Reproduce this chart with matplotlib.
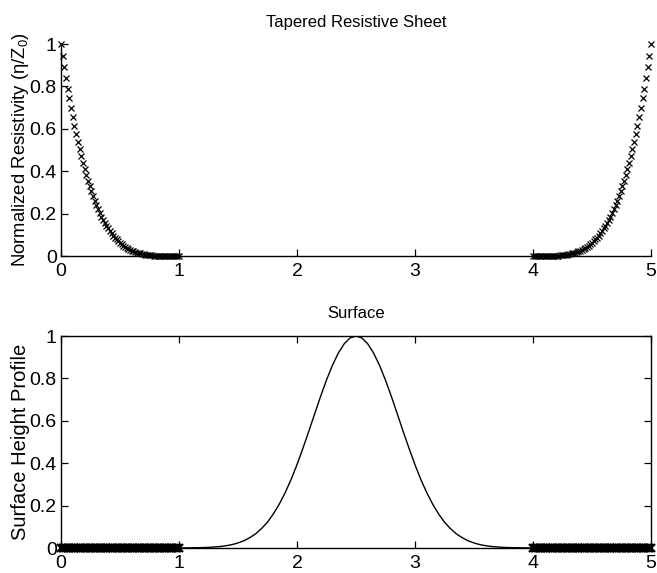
import matplotlib
matplotlib.use("Agg")
from matplotlib import pyplot
import numpy as np

pyplot.rcParams['font.family'] = ['Liberation Sans', 'DejaVu Sans']
pyplot.rcParams['mathtext.fontset'] = 'custom'
pyplot.rcParams['mathtext.rm'] = 'Liberation Sans'
pyplot.rcParams['mathtext.default'] = 'regular'

# sheet sample positions (0..1 and 4..5), 71 samples each
sheet_x_left = np.linspace(0., 1., 71)
sheet_x_right = np.linspace(4., 5., 71)

# normalized resistivity (x = 0 -> 1)
resist_left = [1.000, 0.944, 0.891, 0.839, 0.790, 0.743, 0.699, 0.656, 0.615, 0.577,
               0.540, 0.505, 0.471, 0.440, 0.410, 0.381, 0.354, 0.329, 0.305, 0.282,
               0.260, 0.240, 0.221, 0.203, 0.186, 0.171, 0.156, 0.142, 0.130, 0.118,
               0.107, 0.096, 0.087, 0.078, 0.070, 0.062, 0.056, 0.049, 0.044, 0.038,
               0.034, 0.029, 0.026, 0.022, 0.019, 0.016, 0.014, 0.012, 0.010, 0.008,
               0.007, 0.005, 0.004, 0.003, 0.003, 0.002, 0.002, 0.001, 0.001, 0.001,
               0.000, 0.000, 0.000, 0.000, 0.000, 0.000, 0.000, 0.000, 0.000, 0.000,
               0.000]
# right taper is the mirror image
resist_right = resist_left[::-1]

# surface profile
surf_x = [0.0, 0.5, 1.0, 1.1, 1.2, 1.25, 1.3, 1.35, 1.4, 1.45, 1.5, 1.55, 1.6, 1.65, 1.7,
          1.75, 1.8, 1.85, 1.9, 1.95, 2.0, 2.05, 2.1, 2.15, 2.2, 2.25, 2.3, 2.35, 2.4,
          2.45, 2.5, 2.55, 2.6, 2.65, 2.7, 2.75, 2.8, 2.85, 2.9, 2.95, 3.0, 3.05, 3.1,
          3.15, 3.2, 3.25, 3.3, 3.35, 3.4, 3.45, 3.5, 3.55, 3.6, 3.65, 3.7, 3.75, 3.8,
          3.9, 4.0, 4.5, 5.0]
surf_y = [0.0, 0.0, 0.0, 0.001, 0.002, 0.003, 0.005, 0.007, 0.011, 0.016, 0.024, 0.034,
          0.049, 0.067, 0.092, 0.122, 0.161, 0.207, 0.261, 0.323, 0.393, 0.470, 0.550,
          0.633, 0.715, 0.792, 0.861, 0.919, 0.963, 0.991, 1.000, 0.991, 0.963, 0.919,
          0.861, 0.792, 0.715, 0.633, 0.550, 0.470, 0.393, 0.323, 0.261, 0.207, 0.161,
          0.122, 0.092, 0.067, 0.049, 0.034, 0.024, 0.016, 0.011, 0.007, 0.005, 0.003,
          0.002, 0.001, 0.0, 0.0, 0.0]

x_ticks = [0, 1, 2, 3, 4, 5]
y_ticks = [0, 0.2, 0.4, 0.6, 0.8, 1]
y_tick_labels = ['0', '0.2', '0.4', '0.6', '0.8', '1']

fig = pyplot.figure(figsize=(6.57, 5.73), dpi=100)
ax1 = fig.add_axes([0.0928, 0.5532, 0.898, 0.370])
ax2 = fig.add_axes([0.0928, 0.0436, 0.898, 0.370])

mk = dict(marker='x', ls='none', color='black', ms=4, mew=0.9, clip_on=False)

# top: tapered resistive sheet
ax1.plot(sheet_x_left, resist_left, **mk)
ax1.plot(sheet_x_right, resist_right, **mk)
ax1.spines['top'].set_visible(False)
ax1.spines['right'].set_visible(False)
ax1.set_title('Tapered Resistive Sheet', fontsize=12, pad=12)
ax1.set_ylabel('Normalized Resistivity (η/Z$_0$)', fontsize=13.3, labelpad=-1)

# bottom: surface profile, sheet shown as a band of markers on y=0
ax2.plot(surf_x, surf_y, color='black', lw=1.0)
mk_band = dict(mk, ms=5.5, mew=1.6)
ax2.plot(sheet_x_left, np.zeros(len(sheet_x_left)), **mk_band)
ax2.plot(sheet_x_right, np.zeros(len(sheet_x_right)), **mk_band)
ax2.set_title('Surface', fontsize=12, pad=13)
ax2.set_ylabel('Surface Height Profile', fontsize=14.5, labelpad=0)
ax2.tick_params(top=True, right=True)

for ax in (ax1, ax2):
    ax.set_xlim(0, 5)
    ax.set_ylim(0, 1)
    ax.set_xticks(x_ticks)
    ax.set_xticklabels([str(t) for t in x_ticks])
    ax.set_yticks(y_ticks)
    ax.set_yticklabels(y_tick_labels)
    ax.tick_params(direction='in', length=5, width=0.9, labelsize=14, pad=3)
    ax.tick_params(axis='x', pad=5)
    for s in ax.spines.values():
        s.set_linewidth(1.0)

pyplot.savefig('out.png', dpi=100)
pyplot.close()
